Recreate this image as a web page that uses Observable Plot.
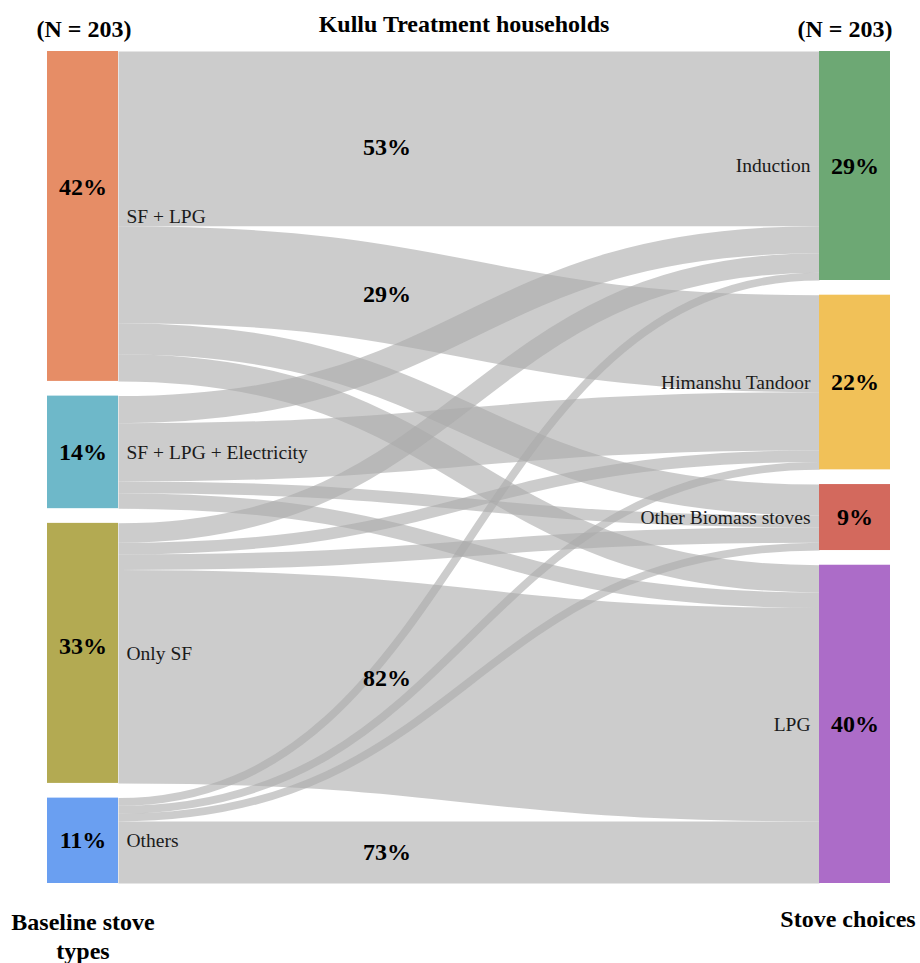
<!DOCTYPE html>
<html>
<head>
<meta charset="utf-8">
<script src="https://cdn.jsdelivr.net/npm/d3@7"></script>
<script src="https://cdn.jsdelivr.net/npm/@observablehq/plot@0.6"></script>
<style>
  html, body { margin: 0; padding: 0; background: #fff; }
</style>
</head>
<body>
<div id="chart"></div>
<script>
// ---------- DATA ----------
const title = "Kullu Treatment households";
const sampleLabel = "(N = 203)";
const leftTitle = "Baseline stove\ntypes";
const rightTitle = "Stove choices";

const sources = ["SF + LPG", "SF + LPG + Electricity", "Only SF", "Others"];
const targets = ["Induction", "Himanshu Tandoor", "Other Biomass stoves", "LPG"];

const sourcePct = ["42%", "14%", "33%", "11%"];
const targetPct = ["29%", "22%", "9%", "40%"];

const sourceColors = ["#E68D66", "#6EB8C9", "#B3AA52", "#6A9FF1"];
const targetColors = ["#6DA874", "#F1C158", "#D3695D", "#AC6CC8"];

// households flowing from each baseline type to each stove choice (order = targets)
const flowSFLPG     = [45, 25, 8, 7];
const flowSFLPGElec = [7, 15, 3, 4];
const flowOnlySF    = [5, 3, 4, 55];
const flowOthers    = [2, 2, 2, 16];

// flows annotated with their share of the baseline group
const labelledFlows = [
  ["SF + LPG", "Induction"],
  ["SF + LPG", "Himanshu Tandoor"],
  ["Only SF", "LPG"],
  ["Others", "LPG"]
];

// ---------- LAYOUT (built from the arrays above) ----------
const W = 920, H = 963;
const mTop = 51, mBottom = 80, mLeft = 47, mRight = 30;
const padPx = 14.7;
const nodeW = 71 / (W - mLeft - mRight);

const matrix = [flowSFLPG, flowSFLPGElec, flowOnlySF, flowOthers];
const srcTot = matrix.map(r => d3.sum(r));
const tgtTot = targets.map((_, j) => d3.sum(matrix, r => r[j]));
const N = d3.sum(srcTot);
const innerH = H - mTop - mBottom;
const k = (innerH - 3 * padPx) / N;      // px per household
const gapU = padPx / k;
const T = N + 3 * gapU;

function stack(totals) {
  let y = 0;
  return totals.map(v => { const o = {y0: y, y1: y + v}; y += v + gapU; return o; });
}
const sPos = stack(srcTot), tPos = stack(tgtTot);

const pctNudge = {"SF + LPG": -29, "Only SF": -7}; // label nudges (px)

const nodes = [
  ...sources.map((s, i) => ({name: s, x1: 0, x2: nodeW, cx: nodeW / 2, ...sPos[i], fill: sourceColors[i], pct: sourcePct[i], side: "L"})),
  ...targets.map((t, j) => ({name: t, x1: 1 - nodeW, x2: 1, cx: 1 - nodeW / 2, ...tPos[j], fill: targetColors[j], pct: targetPct[j], side: "R"}))
];

const links = [];
const tOff = tPos.map(p => p.y0);
sources.forEach((s, i) => {
  let sy = sPos[i].y0;
  targets.forEach((t, j) => {
    const v = matrix[i][j];
    links.push({source: s, target: t, value: v, si: i,
      sy: sy + v / 2, ty: tOff[j] + v / 2, x1: nodeW, x2: 1 - nodeW});
    sy += v;
    tOff[j] += v;
  });
});

// point on a bump-x curve at fraction tx of its horizontal span
const tx = 0.383;
function solveS(t) {
  let lo = 0, hi = 1;
  for (let n = 0; n < 40; n++) {
    const m = (lo + hi) / 2;
    const f = 1.5 * m - 1.5 * m * m + m * m * m;
    if (f < t) lo = m; else hi = m;
  }
  return (lo + hi) / 2;
}
const sS = solveS(tx);
const g = 3 * sS * sS - 2 * sS * sS * sS;
const flowNudge = {"SF + LPG|Induction": 8, "Only SF|LPG": -9}; // label nudges (px)
const flowLabels = labelledFlows.map(([s, t]) => {
  const l = links.find(d => d.source === s && d.target === t);
  return {
    x: l.x1 + (l.x2 - l.x1) * tx,
    y: l.sy + (l.ty - l.sy) * g + (flowNudge[s + "|" + t] || 0) / k,
    text: Math.round(l.value / srcTot[l.si] * 100) + "%"
  };
});

const serif = "'Liberation Serif', 'Times New Roman', serif";

const chart = Plot.plot({
  width: W, height: H,
  marginTop: mTop, marginBottom: mBottom, marginLeft: mLeft, marginRight: mRight,
  x: {domain: [0, 1], axis: null},
  y: {domain: [0, T], reverse: true, axis: null},
  style: {fontFamily: serif, background: "#fff", overflow: "visible"},
  marks: [
    Plot.link(links, {
      x1: "x1", x2: "x2", y1: "sy", y2: "ty",
      curve: "bump-x",
      stroke: "#aaa", strokeOpacity: 0.6,
      strokeWidth: d => d.value * k
    }),
    Plot.rect(nodes, {x1: "x1", x2: "x2", y1: "y0", y2: "y1", fill: "fill"}),
    Plot.text(nodes, {
      x: "cx",
      y: d => (d.y0 + d.y1) / 2 + (pctNudge[d.name] || 0) / k,
      text: "pct", fontSize: 24, fontWeight: "bold", fill: "#000"
    }),
    Plot.text(nodes.filter(d => d.side === "L"), {
      x: "x2", y: d => (d.y0 + d.y1) / 2, text: "name",
      textAnchor: "start", dx: 8, fontSize: 19.5, fill: "#1a1a1a"
    }),
    Plot.text(nodes.filter(d => d.side === "R"), {
      x: "x1", y: d => (d.y0 + d.y1) / 2, text: "name",
      textAnchor: "end", dx: -9, fontSize: 19.5, fill: "#1a1a1a"
    }),
    Plot.text(flowLabels, {
      x: "x", y: "y", text: "text", fontSize: 24, fontWeight: "bold", fill: "#000"
    }),
    Plot.text([title], {
      frameAnchor: "top", lineAnchor: "bottom", dy: -20, dx: -5,
      fontSize: 24, fontWeight: "bold", fill: "#000"
    }),
    Plot.text([nodeW / 2], {
      x: d => d, text: () => sampleLabel, frameAnchor: "top", lineAnchor: "bottom",
      dy: -15, dx: 1, fontSize: 24, fontWeight: "bold", fill: "#000"
    }),
    Plot.text([1 - nodeW / 2], {
      x: d => d, text: () => sampleLabel, frameAnchor: "top", lineAnchor: "bottom",
      dy: -15, dx: -10, fontSize: 24, fontWeight: "bold", fill: "#000"
    }),
    Plot.text([{x: nodeW / 2, t: leftTitle}], {
      x: "x", text: "t", frameAnchor: "bottom", lineAnchor: "top", dy: 26,
      lineHeight: 1.2, fontSize: 24, fontWeight: "bold", fill: "#000"
    }),
    Plot.text([{x: 1 - nodeW / 2, t: rightTitle}], {
      x: "x", text: "t", frameAnchor: "bottom", lineAnchor: "top", dy: 26, dx: -7,
      fontSize: 24, fontWeight: "bold", fill: "#000"
    })
  ]
});
document.getElementById("chart").appendChild(chart);
</script>
</body>
</html>
